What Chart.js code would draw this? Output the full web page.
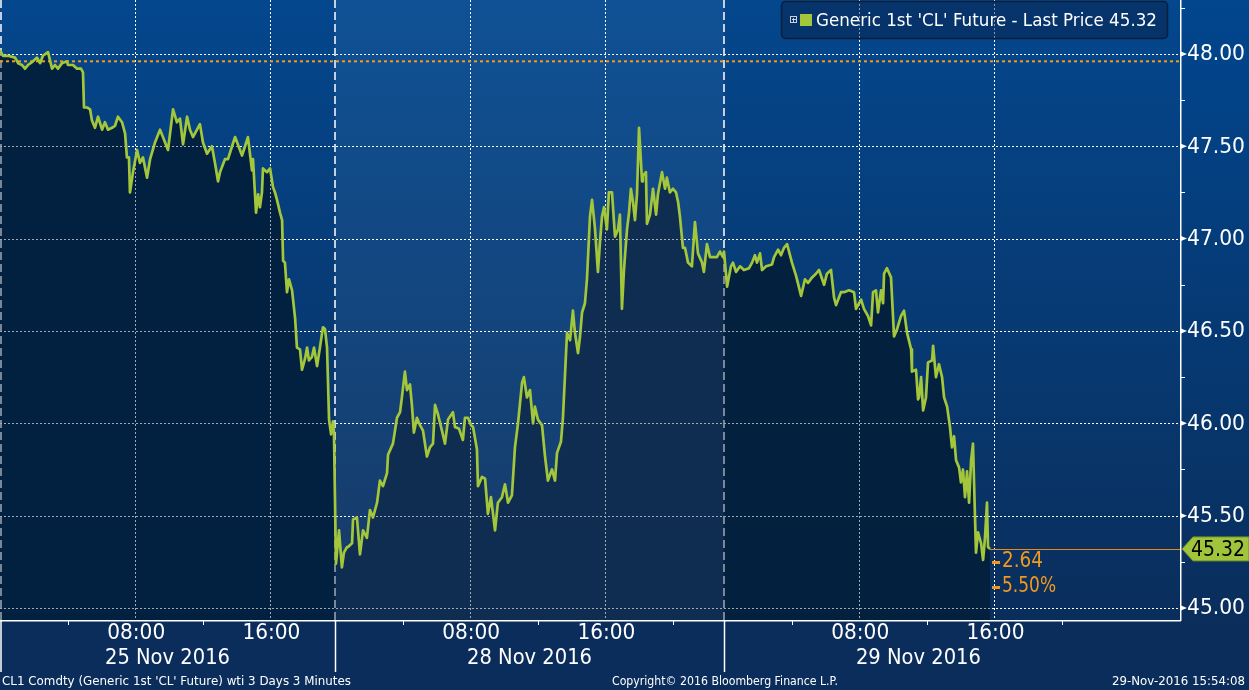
<!DOCTYPE html>
<html>
<head>
<meta charset="utf-8">
<script src="https://cdn.jsdelivr.net/npm/chart.js@4.4.0/dist/chart.umd.min.js"></script>
<style>
    body { margin: 0; background: #0b2d5c; }
    #wrap { width: 1249px; height: 690px; position: relative; }
</style>
</head>
<body>
<div id="wrap"><canvas id="chart"></canvas></div>
<script>
// Sesiones del eje x (horas comprimidas, sin los huecos entre sesiones)
const dayLabels = ['25 Nov 2016', '28 Nov 2016', '29 Nov 2016'];
const dayStart = [0, 19.82, 42.84];
const dayLength = [19.82, 23.02, 23];
const timeLabels = ['08:00', '16:00'];
const timeLabelHours = [8, 16];
const minorTickHours = [4, 12, 20];
const yTicks = [45, 45.5, 46, 46.5, 47, 47.5, 48];

const seriesName = "Generic 1st 'CL' Future - Last Price";
const prevClose = 47.96;
const lastPrice = 45.32;
const netChange = -2.64;
const pctChange = -5.50;

const footerLeft = "CL1 Comdty (Generic 1st 'CL' Future) wti 3 Days 3 Minutes";
const footerMid = 'Copyright\u00a9 2016 Bloomberg Finance L.P.';
const footerRight = '29-Nov-2016 15:54:08';

// 25 Nov 2016 (hora del día, precio)
const nov25Hours = [0.00, 0.18, 0.47, 0.89, 1.07, 1.30, 1.48, 1.66, 1.95, 2.19,
    2.37, 2.54, 2.84, 3.08, 3.25, 3.43, 3.67, 3.96, 4.02, 4.32,
    4.56, 4.79, 4.91, 4.97, 5.15, 5.33, 5.44, 5.62, 5.80, 6.04,
    6.21, 6.39, 6.63, 6.80, 6.98, 7.22, 7.40, 7.51, 7.63, 7.69,
    7.87, 8.11, 8.28, 8.46, 8.70, 8.88, 9.17, 9.47, 9.64, 9.94,
    10.24, 10.47, 10.65, 10.83, 11.07, 11.24, 11.42, 11.83, 12.01, 12.25,
    12.54, 12.72, 12.90, 13.02, 13.31, 13.49, 13.73, 13.91, 14.32, 14.50,
    14.67, 14.91, 14.97, 15.15, 15.27, 15.38, 15.50, 15.56, 15.80, 15.98,
    16.15, 16.27, 16.39, 16.57, 16.69, 16.75, 16.86, 16.98, 17.10, 17.28,
    17.46, 17.57, 17.75, 17.87, 18.05, 18.17, 18.28, 18.46, 18.58, 18.76,
    18.93, 19.11, 19.23, 19.35, 19.47, 19.59, 19.70, 19.76];
const nov25Prices = [48.02, 47.99, 47.99, 47.98, 47.95, 47.94, 47.92, 47.94, 47.96, 47.98,
    47.95, 47.99, 48.01, 47.92, 47.94, 47.92, 47.95, 47.96, 47.94, 47.94,
    47.92, 47.92, 47.90, 47.71, 47.71, 47.70, 47.64, 47.60, 47.66, 47.59,
    47.63, 47.59, 47.60, 47.61, 47.66, 47.63, 47.57, 47.44, 47.44, 47.25,
    47.36, 47.48, 47.41, 47.44, 47.33, 47.43, 47.52, 47.59, 47.55, 47.48,
    47.70, 47.63, 47.65, 47.51, 47.66, 47.59, 47.55, 47.62, 47.52, 47.46,
    47.50, 47.41, 47.31, 47.36, 47.43, 47.43, 47.50, 47.55, 47.45, 47.50,
    47.55, 47.37, 47.43, 47.14, 47.24, 47.17, 47.25, 47.38, 47.36, 47.38,
    47.28, 47.25, 47.21, 47.14, 47.10, 46.88, 46.87, 46.71, 46.78, 46.72,
    46.57, 46.41, 46.40, 46.29, 46.35, 46.41, 46.34, 46.36, 46.41, 46.31,
    46.41, 46.52, 46.51, 46.41, 46.02, 45.94, 46.01, 45.95];

// 28 Nov 2016
const nov28Hours = [0.06, 0.12, 0.24, 0.41, 0.53, 0.71, 0.77, 1.01, 1.07, 1.30,
    1.48, 1.66, 1.89, 2.07, 2.25, 2.49, 2.66, 2.84, 3.08, 3.14,
    3.43, 3.67, 3.85, 3.96, 4.14, 4.26, 4.44, 4.56, 4.67, 4.85,
    5.03, 5.21, 5.44, 5.62, 5.80, 5.92, 6.09, 6.33, 6.51, 6.69,
    6.98, 7.10, 7.34, 7.57, 7.69, 7.87, 8.05, 8.17, 8.40, 8.46,
    8.70, 8.88, 9.05, 9.23, 9.47, 9.64, 9.88, 10.06, 10.24, 10.47,
    10.65, 10.83, 11.07, 11.18, 11.36, 11.54, 11.72, 11.83, 12.01, 12.25,
    12.43, 12.60, 12.84, 13.02, 13.14, 13.37, 13.49, 13.73, 13.91, 14.08,
    14.20, 14.38, 14.50, 14.62, 14.79, 14.91, 15.09, 15.21, 15.38, 15.56,
    15.68, 15.80, 15.92, 16.09, 16.21, 16.39, 16.57, 16.75, 16.86, 16.98,
    17.10, 17.28, 17.40, 17.51, 17.63, 17.75, 17.87, 17.99, 18.17, 18.22,
    18.40, 18.46, 18.64, 18.82, 19.00, 19.11, 19.35, 19.53, 19.64, 19.82,
    20.00, 20.18, 20.30, 20.41, 20.59, 20.71, 20.89, 21.12, 21.30, 21.48,
    21.72, 21.83, 22.01, 22.19, 22.37, 22.60, 22.78, 22.96];
const nov28Prices = [45.24, 45.30, 45.42, 45.22, 45.30, 45.33, 45.33, 45.35, 45.48, 45.49,
    45.29, 45.42, 45.38, 45.53, 45.49, 45.57, 45.69, 45.66, 45.73, 45.83,
    45.89, 46.03, 46.06, 46.14, 46.28, 46.18, 46.21, 46.09, 45.95, 46.03,
    45.99, 45.96, 45.82, 45.87, 45.89, 46.10, 46.05, 45.96, 45.89, 46.02,
    46.06, 45.98, 45.97, 45.91, 46.03, 46.03, 45.99, 45.98, 45.86, 45.66,
    45.71, 45.70, 45.51, 45.60, 45.42, 45.57, 45.60, 45.67, 45.57, 45.61,
    45.87, 46.00, 46.22, 46.25, 46.14, 46.18, 46.00, 46.09, 46.02, 45.99,
    45.82, 45.69, 45.75, 45.69, 45.84, 45.90, 46.03, 46.49, 46.45, 46.61,
    46.49, 46.38, 46.47, 46.60, 46.65, 46.78, 47.12, 47.21, 47.06, 46.82,
    46.98, 47.12, 47.17, 47.05, 47.25, 47.25, 47.01, 47.05, 47.13, 46.62,
    46.83, 47.05, 47.14, 47.27, 47.20, 47.10, 47.24, 47.60, 47.31, 47.34,
    47.36, 47.08, 47.13, 47.27, 47.13, 47.24, 47.36, 47.27, 47.33, 47.25,
    47.27, 47.25, 47.20, 47.12, 46.95, 46.95, 46.87, 46.85, 47.09, 46.92,
    46.87, 46.82, 46.97, 46.90, 46.90, 46.90, 46.93, 46.90];

// 29 Nov 2016
const nov29Hours = [0.00, 0.18, 0.41, 0.53, 0.71, 0.95, 1.18, 1.48, 1.66, 1.83,
    1.95, 2.13, 2.25, 2.49, 2.84, 2.96, 3.20, 3.37, 3.55, 3.73,
    4.02, 4.26, 4.56, 4.79, 4.97, 5.21, 5.44, 5.62, 5.92, 6.09,
    6.33, 6.51, 6.63, 6.92, 7.10, 7.40, 7.69, 7.81, 8.11, 8.28,
    8.52, 8.70, 8.82, 8.99, 9.11, 9.29, 9.41, 9.47, 9.64, 9.88,
    10.06, 10.24, 10.47, 10.65, 10.83, 11.07, 11.12, 11.36, 11.48, 11.54,
    11.66, 11.78, 11.95, 12.07, 12.31, 12.37, 12.54, 12.72, 12.90, 13.02,
    13.20, 13.37, 13.49, 13.61, 13.73, 13.91, 14.02, 14.14, 14.26, 14.38,
    14.50, 14.62, 14.73, 14.91, 15.03, 15.21, 15.33, 15.44, 15.56, 15.62,
    15.74];
const nov29Prices = [46.93, 46.74, 46.85, 46.87, 46.82, 46.85, 46.83, 46.84, 46.87, 46.91,
    46.87, 46.92, 46.83, 46.85, 46.86, 46.90, 46.94, 46.91, 46.95, 46.97,
    46.87, 46.80, 46.69, 46.78, 46.76, 46.79, 46.81, 46.83, 46.75, 46.81,
    46.83, 46.68, 46.64, 46.71, 46.71, 46.72, 46.71, 46.62, 46.67, 46.62,
    46.58, 46.53, 46.71, 46.72, 46.60, 46.72, 46.65, 46.81, 46.84, 46.79,
    46.47, 46.51, 46.58, 46.61, 46.49, 46.40, 46.28, 46.29, 46.13, 46.14,
    46.25, 46.07, 46.14, 46.33, 46.34, 46.42, 46.25, 46.32, 46.25, 46.14,
    46.09, 45.98, 45.87, 45.93, 45.80, 45.76, 45.68, 45.75, 45.60, 45.74,
    45.57, 45.80, 45.89, 45.30, 45.41, 45.35, 45.26, 45.38, 45.57, 45.33,
    45.32];

function sessionPoints(dayIndex, hours, prices) {
    return hours.map((h, i) => ({ x: dayStart[dayIndex] + h, y: prices[i] }));
}

const points = [].concat(
    sessionPoints(0, nov25Hours, nov25Prices),
    sessionPoints(1, nov28Hours, nov28Prices),
    sessionPoints(2, nov29Hours, nov29Prices)
);

const fontFamily = "'DejaVu Sans', 'Liberation Sans', sans-serif";
const bandTop = ['#04478d', '#0f5195', '#04478d'];
const bandBottom = ['#0a2e5c', '#173a66', '#0a2e5c'];
const fillColors = ['#02203f', '#0f2d50', '#03213f'];
const lineGreen = '#a3c63b';
const orange = '#f39a1e';

// Texto ajustado a un ancho concreto (escala horizontal)
function fitText(ctx, text, x, y, width, size, color, align) {
    ctx.save();
    ctx.font = size + 'px ' + fontFamily;
    ctx.fillStyle = color;
    ctx.textBaseline = 'middle';
    ctx.textAlign = 'left';
    const w = ctx.measureText(text).width;
    let x0 = x;
    if (align === 'center') x0 = x - width / 2;
    else if (align === 'right') x0 = x - width;
    ctx.translate(x0, y);
    ctx.scale(width / w, 1);
    ctx.fillText(text, 0, 0);
    ctx.restore();
}

function line(ctx, x1, y1, x2, y2) {
    ctx.beginPath();
    ctx.moveTo(x1, y1);
    ctx.lineTo(x2, y2);
    ctx.stroke();
}

// cambio con su signo dibujado como una raya corta
function changeLabel(ctx, value, suffix, x, y, width) {
    ctx.save();
    ctx.fillStyle = orange;
    ctx.fillRect(x, Math.round(y) - 1, 8, 3);
    if (value > 0) ctx.fillRect(x + 2.5, Math.round(y) - 3.5, 3, 8);
    ctx.restore();
    fitText(ctx, Math.abs(value).toFixed(2) + suffix, x + 10, y, width, 21, orange, 'left');
}

function drawGrid(chart, color) {
    const ctx = chart.ctx, a = chart.chartArea;
    const xs = chart.scales.x, ys = chart.scales.y;
    ctx.strokeStyle = color;
    ctx.lineWidth = 1;
    ctx.setLineDash([2, 2]);
    yTicks.forEach(v => {
        const y = Math.round(ys.getPixelForValue(v)) + 0.5;
        line(ctx, a.left, y, a.right, y);
    });
    dayStart.forEach(s => timeLabelHours.forEach(h => {
        const x = Math.round(xs.getPixelForValue(s + h)) + 0.5;
        line(ctx, x, a.top, x, a.bottom);
    }));
    ctx.lineWidth = 1.5;
    ctx.setLineDash([8, 4]);
    dayStart.forEach(s => {
        const x = Math.max(a.left + 1, Math.round(xs.getPixelForValue(s)));
        line(ctx, x, a.top, x, a.bottom);
    });
    ctx.setLineDash([]);
}

const bloombergPlugin = {
    id: 'bloomberg',
    beforeDraw(chart) {
        const ctx = chart.ctx, a = chart.chartArea, xs = chart.scales.x;
        ctx.save();
        const g = ctx.createLinearGradient(0, 0, 0, a.bottom);
        g.addColorStop(0, '#01468e');
        g.addColorStop(1, '#0a2e5c');
        ctx.fillStyle = g;
        ctx.fillRect(0, 0, chart.width, a.bottom);
        ctx.fillStyle = '#0b2d5c';
        ctx.fillRect(0, a.bottom, chart.width, chart.height - a.bottom);
        for (let d = 0; d < dayStart.length; d++) {
            const x1 = xs.getPixelForValue(dayStart[d]);
            const x2 = d < dayStart.length - 1 ? xs.getPixelForValue(dayStart[d + 1]) : a.right;
            const bg = ctx.createLinearGradient(0, a.top, 0, a.bottom);
            bg.addColorStop(0, bandTop[d]);
            bg.addColorStop(1, bandBottom[d]);
            ctx.fillStyle = bg;
            ctx.fillRect(x1, a.top, x2 - x1, a.bottom - a.top);
        }
        ctx.restore();
    },
    beforeDatasetDraw(chart, args) {
        if (args.index !== 1) return;
        const ctx = chart.ctx, a = chart.chartArea;
        const pts = chart.getDatasetMeta(0).data;
        const first = pts[0], last = pts[pts.length - 1];
        const below = new Path2D();
        below.moveTo(first.x, a.bottom);
        pts.forEach(p => below.lineTo(p.x, p.y));
        below.lineTo(last.x, a.bottom);
        below.closePath();

        ctx.save();
        ctx.clip(below);
        drawGrid(chart, '#a1a9b4');
        ctx.restore();

        const above = new Path2D();
        above.rect(a.left, a.top, a.right - a.left, a.bottom - a.top);
        above.addPath(below);
        ctx.save();
        ctx.clip(above, 'evenodd');
        drawGrid(chart, '#ffffff');
        ctx.restore();

        // cierre anterior
        ctx.save();
        const yc = chart.scales.y.getPixelForValue(prevClose);
        ctx.strokeStyle = orange;
        ctx.lineWidth = 2;
        ctx.setLineDash([3, 3]);
        line(ctx, a.left, yc, a.right, yc);
        ctx.restore();
    },
    afterDraw(chart) {
        const ctx = chart.ctx, a = chart.chartArea;
        const xs = chart.scales.x, ys = chart.scales.y;
        const pts = chart.getDatasetMeta(1).data;
        const last = pts[pts.length - 1];
        ctx.save();

        // ultimo precio
        const yl = ys.getPixelForValue(lastPrice);
        ctx.strokeStyle = '#e8891f';
        ctx.lineWidth = 1;
        line(ctx, last.x, Math.round(yl) + 0.5, a.right, Math.round(yl) + 0.5);
        changeLabel(ctx, netChange, '', last.x + 2, yl + 13, 41);
        changeLabel(ctx, pctChange, '%', last.x + 2, yl + 38, 54);

        // ejes
        ctx.strokeStyle = '#ffffff';
        ctx.lineWidth = 1.5;
        line(ctx, a.right + 0.75, 0, a.right + 0.75, a.bottom + 1);
        line(ctx, 0, a.bottom + 0.75, a.right + 1, a.bottom + 0.75);

        // eje y
        ctx.lineWidth = 1;
        yTicks.forEach(v => {
            const y = ys.getPixelForValue(v);
            ctx.fillStyle = '#ffffff';
            ctx.beginPath();
            ctx.moveTo(a.right + 1, y - 2.5);
            ctx.lineTo(a.right + 7, y);
            ctx.lineTo(a.right + 1, y + 2.5);
            ctx.closePath();
            ctx.fill();
            fitText(ctx, v.toFixed(2), a.right + 7, y + 1, 58, 21, '#ffffff', 'left');
            if (v + 0.25 <= ys.max) {
                const ym = Math.round(ys.getPixelForValue(v + 0.25)) + 0.5;
                line(ctx, a.right, ym, a.right + 5, ym);
            }
        });

        // etiqueta del ultimo precio
        ctx.beginPath();
        ctx.moveTo(a.right + 2, yl);
        ctx.lineTo(a.right + 13, yl - 12);
        ctx.lineTo(chart.width, yl - 12);
        ctx.lineTo(chart.width, yl + 12);
        ctx.lineTo(a.right + 13, yl + 12);
        ctx.closePath();
        ctx.fillStyle = '#a0c43b';
        ctx.fill();
        ctx.strokeStyle = '#6f8f25';
        ctx.stroke();
        fitText(ctx, lastPrice.toFixed(2), a.right + 11, yl + 1, 54, 22, '#000000', 'left');

        // eje x
        ctx.strokeStyle = '#ffffff';
        ctx.lineWidth = 1;
        for (let d = 0; d < dayStart.length; d++) {
            const xd = Math.max(1, Math.round(xs.getPixelForValue(dayStart[d])) + 0.5);
            ctx.lineWidth = 1.5;
            line(ctx, xd, a.bottom, xd, a.bottom + 52);
            ctx.lineWidth = 1;
            minorTickHours.forEach(h => {
                if (h < dayLength[d] && dayStart[d] + h < xs.max) {
                    const xm = Math.round(xs.getPixelForValue(dayStart[d] + h)) + 0.5;
                    line(ctx, xm, a.bottom, xm, a.bottom + 5);
                }
            });
            timeLabelHours.forEach((h, i) => {
                const xt = xs.getPixelForValue(dayStart[d] + h);
                fitText(ctx, timeLabels[i], xt + 1, a.bottom + 14, 58, 21, '#ffffff', 'center');
            });
            const xc = xs.getPixelForValue(dayStart[d] + dayLength[d] / 2);
            fitText(ctx, dayLabels[d], xc, a.bottom + 39, 125, 21, '#ffffff', 'center');
        }

        // pie
        fitText(ctx, footerLeft, 2, 682, 349, 12, '#ffffff', 'left');
        fitText(ctx, footerMid, 725, 682, 226, 12, '#ffffff', 'center');
        fitText(ctx, footerRight, 1245, 682, 133, 12, '#ffffff', 'right');

        // leyenda
        ctx.beginPath();
        ctx.roundRect(781.5, 1.5, 386, 37, 4);
        ctx.fillStyle = 'rgba(8, 28, 66, 0.45)';
        ctx.fill();
        ctx.strokeStyle = '#0a1e3e';
        ctx.lineWidth = 1.5;
        ctx.stroke();
        ctx.strokeStyle = '#c8d0dc';
        ctx.lineWidth = 1;
        ctx.strokeRect(790.5, 16.5, 6, 6);
        line(ctx, 792, 19.5, 796, 19.5);
        line(ctx, 793.5, 18, 793.5, 22);
        ctx.fillStyle = lineGreen;
        ctx.fillRect(800, 14, 12, 12);
        fitText(ctx, seriesName + ' ' + lastPrice.toFixed(2), 816, 21, 341, 18, '#ffffff', 'left');

        ctx.restore();
    }
};

const ctx_precio = document.getElementById('chart').getContext('2d');
const precioChart = new Chart(ctx_precio, {
    type: 'line',
    data: {
        datasets: [{
            label: 'fill',
            data: points,
            borderWidth: 0,
            pointRadius: 0,
            fill: 'start',
            order: 1,
            backgroundColor: function (context) {
                const chart = context.chart;
                const area = chart.chartArea;
                if (!area || !chart.scales.x) return fillColors[0];
                const xs = chart.scales.x;
                const span = area.right - area.left;
                const g = chart.ctx.createLinearGradient(area.left, 0, area.right, 0);
                for (let d = 0; d < dayStart.length; d++) {
                    const s = (xs.getPixelForValue(dayStart[d]) - area.left) / span;
                    const e = d < dayStart.length - 1 ? (xs.getPixelForValue(dayStart[d + 1]) - area.left) / span : 1;
                    g.addColorStop(Math.min(1, Math.max(0, s)), fillColors[d]);
                    g.addColorStop(Math.min(1, Math.max(0, e)), fillColors[d]);
                }
                return g;
            }
        }, {
            label: seriesName,
            data: points,
            borderColor: lineGreen,
            borderWidth: 2.7,
            borderJoinStyle: 'round',
            pointRadius: 0,
            fill: false,
            order: 0
        }]
    },
    options: {
        responsive: true,
        maintainAspectRatio: false,
        animation: false,
        layout: { padding: 0 },
        plugins: {
            legend: { display: false },
            tooltip: { enabled: false }
        },
        scales: {
            x: {
                type: 'linear',
                min: 0,
                max: 69.82,
                grid: { display: false },
                border: { display: false },
                ticks: { display: false },
                afterFit(scale) { scale.height = 70; }
            },
            y: {
                position: 'right',
                min: 44.935,
                max: 48.292,
                grid: { display: false },
                border: { display: false },
                ticks: { display: false },
                afterFit(scale) { scale.width = 69; }
            }
        }
    },
    plugins: [bloombergPlugin]
});
</script>
</body>
</html>
